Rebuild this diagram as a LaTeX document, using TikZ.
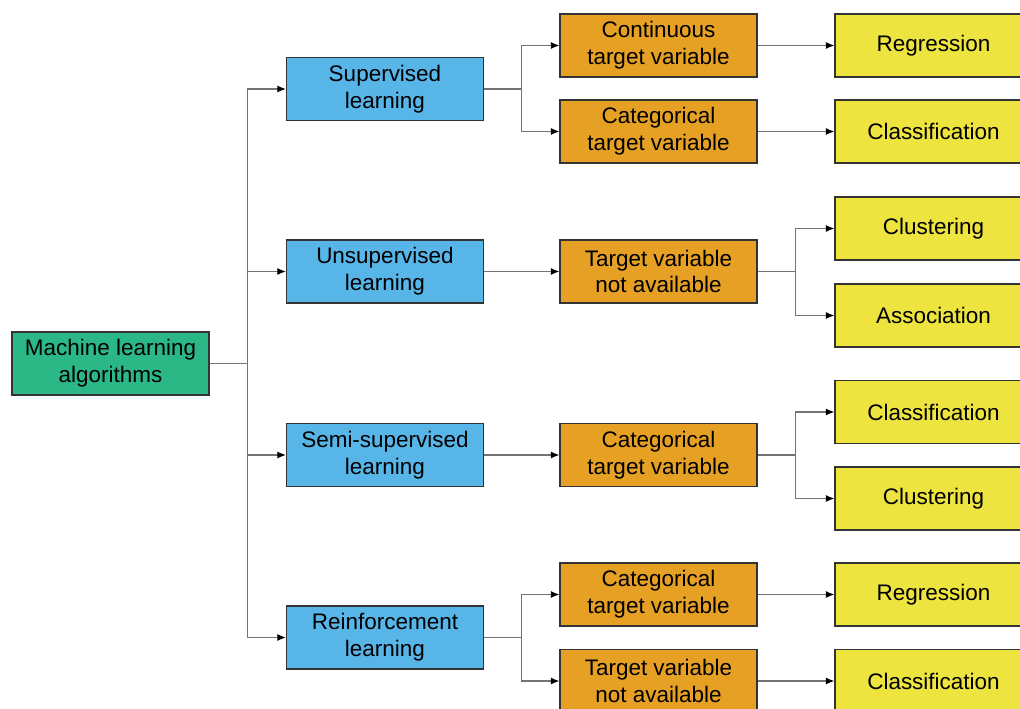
\documentclass[tikz,border=0pt]{standalone}
\usepackage{fontspec}
\setmainfont{Liberation Sans}
\usetikzlibrary{arrows.meta}

\definecolor{mlgreen}{RGB}{44,184,134}
\definecolor{mlblue}{RGB}{87,181,232}
\definecolor{mlorange}{RGB}{230,161,36}
\definecolor{mlyellow}{RGB}{238,228,64}

\tikzset{
  mlbox/.style={draw=black!80, line width=0.8pt, minimum width=3.94cm, minimum height=1.26cm,
    inner sep=0pt, align=center, font=\fontsize{12.8pt}{15.3pt}\selectfont},
  rootbox/.style={mlbox, fill=mlgreen},
  kindbox/.style={mlbox, fill=mlblue},
  targetbox/.style={mlbox, fill=mlorange},
  taskbox/.style={mlbox, fill=mlyellow},
  link/.style={draw=black!55, line width=0.6pt},
  arr/.style={link, -{Latex[length=1.7mm, width=1.4mm, color=black]}}
}

\begin{document}
\begin{tikzpicture}[x=0.02cm, y=-0.02cm]

\useasboundingbox (0,0) rectangle (1020,709);
\clip (0,0) rectangle (1020,709);

\node [rootbox] (ml) at (110.5,363.5) {Machine learning\\algorithms};

\node [kindbox] (sup) at (385,89) {Supervised\\learning};
\node [kindbox] (unsup) at (385,271.5) {Unsupervised\\learning};
\node [kindbox] (semi) at (385,455) {Semi-supervised\\learning};
\node [kindbox] (reinf) at (385,637.5) {Reinforcement\\learning};

\node [targetbox] (cont) at (658.5,45.5) {Continuous\\target variable};
\node [targetbox] (cat) at (658.5,131.5) {Categorical\\target variable};
\node [targetbox] (nav) at (658.5,271.5) {Target variable\\not available};
\node [targetbox] (semicat) at (658.5,455) {Categorical\\target variable};
\node [targetbox] (reinfcat) at (658.5,594.5) {Categorical\\target variable};
\node [targetbox] (reinfnav) at (658.5,681) {Target variable\\not available};

\node [taskbox] (reg) at (933.5,45.5) {Regression};
\node [taskbox] (cls) at (933.5,131.5) {Classification};
\node [taskbox] (clu) at (933.5,228.5) {Clustering};
\node [taskbox] (assoc) at (933.5,315.5) {Association};
\node [taskbox] (semicls) at (933.5,412) {Classification};
\node [taskbox] (semiclu) at (933.5,498.5) {Clustering};
\node [taskbox] (reinfreg) at (933.5,594.5) {Regression};
\node [taskbox] (reinfcls) at (933.5,681) {Classification};

%%% root to kinds
\draw [arr] (ml.east) -- ++(38,0) |- (sup.west);
\draw [arr] (ml.east) -- ++(38,0) |- (unsup.west);
\draw [arr] (ml.east) -- ++(38,0) |- (semi.west);
\draw [arr] (ml.east) -- ++(38,0) |- (reinf.west);

%%% kinds to targets
\draw [arr] (sup.east) -- ++(37,0) |- (cont.west);
\draw [arr] (sup.east) -- ++(37,0) |- (cat.west);
\draw [arr] (unsup.east) -- (nav.west);
\draw [arr] (semi.east) -- (semicat.west);
\draw [arr] (reinf.east) -- ++(37,0) |- (reinfcat.west);
\draw [arr] (reinf.east) -- ++(37,0) |- (reinfnav.west);

%%% targets to tasks
\draw [arr] (cont.east) -- (reg.west);
\draw [arr] (cat.east) -- (cls.west);
\draw [arr] (nav.east) -- ++(38,0) |- (clu.west);
\draw [arr] (nav.east) -- ++(38,0) |- (assoc.west);
\draw [arr] (semicat.east) -- ++(38,0) |- (semicls.west);
\draw [arr] (semicat.east) -- ++(38,0) |- (semiclu.west);
\draw [arr] (reinfcat.east) -- (reinfreg.west);
\draw [arr] (reinfnav.east) -- (reinfcls.west);

\end{tikzpicture}
\end{document}
